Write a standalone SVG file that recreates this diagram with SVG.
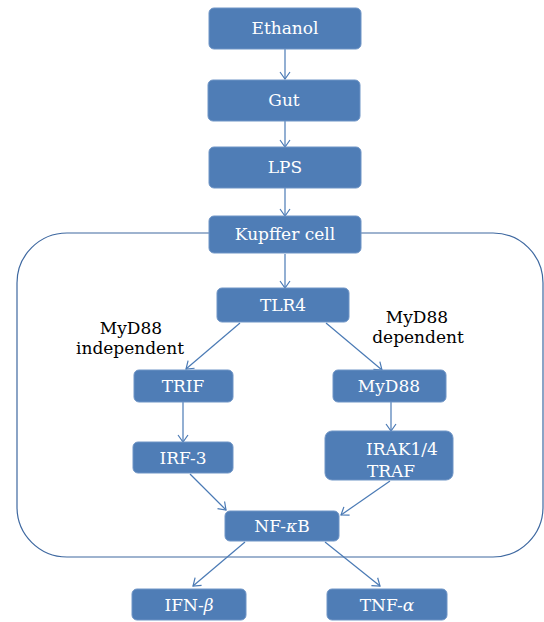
<svg xmlns="http://www.w3.org/2000/svg" width="544" height="622" viewBox="0 0 544 622">
<style>
.box{fill:#4F7DB6;stroke:#6F95C6;stroke-width:1}
.bt{font-family:'DejaVu Serif','Liberation Serif',serif;font-size:17px;fill:#ffffff;text-anchor:middle}
.lbl{font-family:'DejaVu Serif','Liberation Serif',serif;font-size:17px;fill:#000000;text-anchor:middle}
.ln{stroke:#4A7AB5;stroke-width:1.2;fill:none}
</style>
<defs>
<marker id="ah" viewBox="0 0 12 12" refX="11" refY="6" markerWidth="12" markerHeight="12" markerUnits="userSpaceOnUse" orient="auto">
<polyline points="4,1 11,6 4,11" fill="none" stroke="#4A7AB5" stroke-width="1.2"/>
</marker>
</defs>
<rect id="cell-boundary" x="17" y="233" width="526" height="324" rx="50" ry="50" fill="none" stroke="#3E68A0" stroke-width="1.2"/>
<g id="connectors">
<line class="ln" x1="285" y1="49" x2="285" y2="79" marker-end="url(#ah)"/>
<line class="ln" x1="285" y1="121" x2="285" y2="147" marker-end="url(#ah)"/>
<line class="ln" x1="285" y1="188" x2="285" y2="216" marker-end="url(#ah)"/>
<line class="ln" x1="285" y1="254" x2="285" y2="288" marker-end="url(#ah)"/>
<line class="ln" x1="240" y1="323" x2="186" y2="369" marker-end="url(#ah)"/>
<line class="ln" x1="326" y1="323" x2="382" y2="370" marker-end="url(#ah)"/>
<line class="ln" x1="183" y1="402" x2="183" y2="442" marker-end="url(#ah)"/>
<line class="ln" x1="391" y1="402" x2="391" y2="431" marker-end="url(#ah)"/>
<line class="ln" x1="190" y1="474" x2="226" y2="510" marker-end="url(#ah)"/>
<line class="ln" x1="390" y1="481" x2="341" y2="515" marker-end="url(#ah)"/>
<line class="ln" x1="245" y1="542" x2="193" y2="586" marker-end="url(#ah)"/>
<line class="ln" x1="325" y1="542" x2="380" y2="586" marker-end="url(#ah)"/>
</g>
<g id="ethanol"><rect class="box" x="209" y="8" width="152" height="41" rx="5"/><text class="bt" x="285" y="34">Ethanol</text></g>
<g id="gut"><rect class="box" x="208" y="80" width="152" height="41" rx="5"/><text class="bt" x="284" y="106">Gut</text></g>
<g id="lps"><rect class="box" x="209" y="147" width="152" height="41" rx="5"/><text class="bt" x="285" y="173">LPS</text></g>
<g id="kupffer"><rect class="box" x="209" y="216" width="152" height="37" rx="5"/><text class="bt" x="285" y="240">Kupffer cell</text></g>
<g id="tlr4"><rect class="box" x="217" y="288" width="132" height="34" rx="5"/><text class="bt" x="283" y="311">TLR4</text></g>
<g id="label-independent"><text class="lbl" x="131" y="334">MyD88</text><text class="lbl" x="130" y="354">independent</text></g>
<g id="label-dependent"><text class="lbl" x="417" y="323">MyD88</text><text class="lbl" x="418" y="343">dependent</text></g>
<g id="trif"><rect class="box" x="134" y="370" width="99" height="32" rx="5"/><text class="bt" x="183" y="392">TRIF</text></g>
<g id="myd88"><rect class="box" x="333" y="370" width="113" height="32" rx="5"/><text class="bt" x="389" y="392">MyD88</text></g>
<g id="irf3"><rect class="box" x="133" y="442" width="100" height="31" rx="5"/><text class="bt" x="183" y="464">IRF-3</text></g>
<g id="irak"><rect class="box" x="325" y="431" width="128" height="49" rx="7"/><text class="bt" x="402" y="455">IRAK1/4</text><text class="bt" x="391" y="477">TRAF</text></g>
<g id="nfkb"><rect class="box" x="225" y="511" width="114" height="30" rx="5"/><text class="bt" x="282" y="532">NF-<tspan font-style="italic">κ</tspan>B</text></g>
<g id="ifnb"><rect class="box" x="132" y="589" width="114" height="31" rx="5"/><text class="bt" x="189" y="611">IFN-<tspan font-style="italic">β</tspan></text></g>
<g id="tnfa"><rect class="box" x="327" y="589" width="120" height="31" rx="5"/><text class="bt" x="387" y="611">TNF-<tspan font-style="italic">α</tspan></text></g>
</svg>
